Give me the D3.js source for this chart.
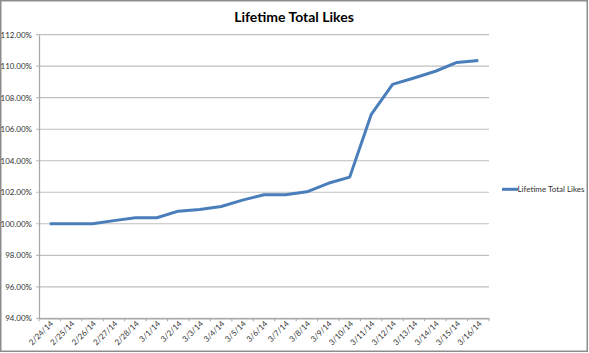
<!DOCTYPE html>
<html><head><meta charset="utf-8">
<script src="https://cdn.jsdelivr.net/npm/d3@7"></script>
<style>
html,body{margin:0;padding:0;background:#fff;}
svg{display:block;}
</style></head>
<body>
<script>
const categories = ["2/24/14","2/25/14","2/26/14","2/27/14","2/28/14","3/1/14","3/2/14","3/3/14","3/4/14","3/5/14","3/6/14","3/7/14","3/8/14","3/9/14","3/10/14","3/11/14","3/12/14","3/13/14","3/14/14","3/15/14","3/16/14"];
const likes = [100.00,100.00,100.00,100.20,100.38,100.38,100.80,100.90,101.10,101.50,101.84,101.84,102.03,102.57,102.96,106.92,108.85,109.25,109.68,110.24,110.37];
const yTicks = [94,96,98,100,102,104,106,108,110,112];
const seriesName = "Lifetime Total Likes";
const title = "Lifetime Total Likes";

(function(){
const W = 589, H = 353;
const font = "Lato, 'Open Sans', sans-serif";
const svg = d3.select("body").append("svg").attr("width", W).attr("height", H);

// frame
svg.append("rect").attr("x",0.75).attr("y",0.75).attr("width",W-2.5).attr("height",H-2.5)
  .attr("fill","#fff").attr("stroke","#8c8c8c").attr("stroke-width",1.5);

const pLeft = 39, pRight = 489, pTop = 34.7, pBottom = 318.3;
const x = d3.scaleBand().domain(categories).range([pLeft, pRight]).padding(0);
const y = d3.scaleLinear().domain([94,112]).range([pBottom, pTop]);

// gridlines
svg.append("g").selectAll("line").data(yTicks).join("line")
  .attr("x1", pLeft - 3).attr("x2", pRight)
  .attr("y1", d => y(d)).attr("y2", d => y(d))
  .attr("stroke", "#bfbfbf").attr("stroke-width", 1.2);

// y axis
const yAxis = d3.axisLeft(y).tickValues(yTicks).tickSize(0).tickPadding(7)
  .tickFormat(d => d3.format(".2f")(d) + "%");
const gy = svg.append("g").attr("transform", `translate(${pLeft},0)`).call(yAxis);
gy.select(".domain").attr("stroke","#a6a6a6").attr("stroke-width",1.2);
gy.selectAll("text").attr("font-family", font).attr("font-size", 8).attr("fill", "#333");

// x axis
const xAxis = d3.axisBottom(x).tickSize(0).tickSizeOuter(0);
const gx = svg.append("g").attr("transform", `translate(0,${pBottom})`).call(xAxis);
gx.select(".domain").attr("stroke","#a6a6a6").attr("stroke-width",1.2);
gx.selectAll(".tick line").remove();
gx.selectAll(".tick text")
  .attr("font-family", font).attr("font-size", 8).attr("fill", "#333")
  .attr("text-anchor","end")
  .attr("dy", null).attr("y", 0)
  .attr("transform", "translate(4,6) rotate(-45)");
// boundary tick marks
const bounds = categories.map(c => x(c)).concat([x(categories[categories.length-1]) + x.bandwidth()]);
svg.append("g").selectAll("line").data(bounds).join("line")
  .attr("x1", d => d).attr("x2", d => d)
  .attr("y1", pBottom).attr("y2", pBottom + 3)
  .attr("stroke","#a6a6a6").attr("stroke-width",1);

// line
const line = d3.line().x((d,i) => x(categories[i]) + x.bandwidth()/2).y(d => y(d));
svg.append("path").datum(likes).attr("d", line)
  .attr("fill","none").attr("stroke","#4a7ebb").attr("stroke-width",3)
  .attr("stroke-linejoin","round");

// title
svg.append("text").attr("x", 294).attr("y", 22).attr("text-anchor","middle")
  .attr("font-family", font).attr("font-weight","bold").attr("font-size", 14).attr("fill","#000")
  .text(title);

// legend
const lg = svg.append("g").attr("transform","translate(502,189.3)");
lg.append("line").attr("x1",0).attr("x2",16).attr("y1",0).attr("y2",0)
  .attr("stroke","#4a7ebb").attr("stroke-width",3);
lg.append("text").attr("x",15.5).attr("y",3).attr("font-family", font).attr("font-size",8).attr("fill","#333")
  .text(seriesName);
})();
</script>
</body></html>
